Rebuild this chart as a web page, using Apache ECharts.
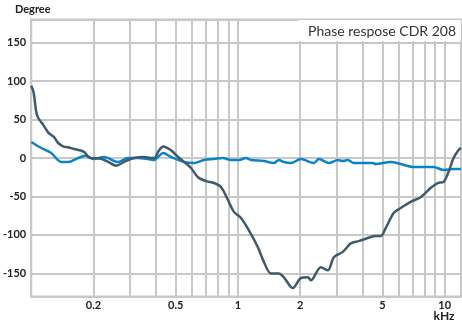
<!DOCTYPE html>
<html><head><meta charset="utf-8">
<script src="https://cdn.jsdelivr.net/npm/echarts@6/dist/echarts.min.js"></script>
<style>html,body{margin:0;padding:0;background:#fff}#c{width:462px;height:327px}</style>
</head><body><div id="c"></div>
<script>
// frequency in kHz, phase in degrees
const darkFreq = [0.1,0.102,0.1034,0.1057,0.1081,0.1143,0.1208,0.1249,0.1291,0.135,0.1443,0.1509,0.1613,0.1803,0.1886,0.1949,0.2179,0.2355,0.2575,0.2814,0.3145,0.3515,0.38,0.3928,0.4153,0.4342,0.4747,0.5131,0.5484,0.5929,0.641,0.7006,0.7656,0.8278,0.8949,0.9566,1.034,1.13,1.249,1.335,1.443,1.578,1.668,1.844,2.015,2.179,2.253,2.518,2.722,2.91,3.216,3.516,3.843,4.246,4.642,4.908,5.188,5.67,6.13,6.851,7.656,8.557,9.251,9.889,10.45,11.05,11.68,12.0];
const darkPhase = [94,88,80,60,52,43,33,30,27,19.5,14.5,14,11.7,8,1.3,0,-1,-5,-10,-5,0,1.3,0,0,10,15,10,1.3,-5,-13,-25,-30,-32.5,-37.7,-54.6,-70,-78,-94,-116,-135,-150,-150,-155,-169,-156,-155,-159,-142,-146,-129,-122,-111,-108,-104,-101.5,-101.5,-91,-71.5,-65,-57,-51,-39,-32.5,-31,-18,0,10.4,13];
const blueFreq = [0.1,0.1118,0.1249,0.1396,0.1509,0.1687,0.1844,0.1993,0.2253,0.2633,0.2942,0.3288,0.3675,0.3928,0.4107,0.4342,0.4747,0.5484,0.613,0.6851,0.7656,0.8463,0.9251,1.011,1.093,1.155,1.335,1.492,1.578,1.668,1.803,2.015,2.329,2.462,2.752,3.042,3.216,3.4,3.635,4.246,4.489,4.642,5.484,6.13,7.084,8.85,9.889,11.05,12.0];
const bluePhase = [20.8,13,6.5,-5.2,-5.2,0,3.3,-1.3,1.3,-5.2,0,0,-1.3,-2.6,1.3,6.5,1.3,-5.2,-6.5,-2.6,-1.3,0,-2.6,-2.6,0,-2.6,-3.9,-6.5,-2.6,-5.2,-6.5,-1.3,-6.5,-1.3,-6.5,-2.6,-3.9,-2.6,-6.5,-6.5,-6.5,-7.8,-5.2,-7.8,-11.7,-11.7,-15.6,-14.3,-14.3];
const xGridValues = [0.1,0.2,0.3,0.4,0.5,0.6,0.7,0.8,0.9,1,2,3,4,5,6,7,8,9,10];
const xLabelValues = [0.2,0.5,1,2,5,10];
const yGridValues = [-180,-150,-100,-50,0,50,100,150,180];
const yLabelValues = [-150,-100,-50,0,50,100,150];
const titleText = 'Phase respose CDR 208';
const xUnit = 'kHz';

const zip = (a,b) => a.map((v,i)=>[v,b[i]]);
const font = 'Lato, "Open Sans", sans-serif';
const chart = echarts.init(document.getElementById('c'), null, {renderer:'canvas'});
chart.setOption({
  animation:false,
  title:{text:titleText,right:1,top:20,backgroundColor:'#fff',padding:[4,5,3,10],
    textStyle:{fontFamily:font,fontSize:14,fontWeight:'normal',color:'#333'}},
  graphic:[{type:'text',x:444,y:316,style:{text:xUnit,fontFamily:font,fontSize:12,fontWeight:'bold',fill:'#222',align:'center',verticalAlign:'middle'}}],
  grid:{left:30,top:19.5,right:1,bottom:30.5,show:true,borderColor:'#c8c8c8',borderWidth:2,backgroundColor:'transparent'},
  xAxis:{type:'log',min:0.1,max:12,logBase:10,
    axisLine:{show:false},axisTick:{show:false,customValues:xGridValues},
    splitLine:{show:true,lineStyle:{color:'#c8c8c8',width:2}},
    axisLabel:{customValues:xLabelValues,fontFamily:font,fontSize:11,fontWeight:'bold',color:'#222',margin:3,
      formatter:v=>String(v)}},
  yAxis:{type:'value',min:-180,max:180,
    name:'Degree',nameLocation:'end',nameGap:5,
    nameTextStyle:{fontFamily:font,fontSize:11,fontWeight:'bold',color:'#222',align:'center',padding:[0,0,0,3]},
    axisLine:{show:false},axisTick:{show:false,customValues:yGridValues},
    splitLine:{show:true,lineStyle:{color:'#c8c8c8',width:2}},
    axisLabel:{customValues:yLabelValues,fontFamily:font,fontSize:11,fontWeight:'bold',color:'#222',margin:5}},
  series:[
    {type:'line',data:zip(blueFreq,bluePhase),showSymbol:false,smooth:0.3,lineStyle:{color:'#0a84c6',width:2.5},z:3},
    {type:'line',data:zip(darkFreq,darkPhase),showSymbol:false,smooth:0.3,lineStyle:{color:'#3f5b6b',width:2.5},z:4}
  ]
});
</script></body></html>
